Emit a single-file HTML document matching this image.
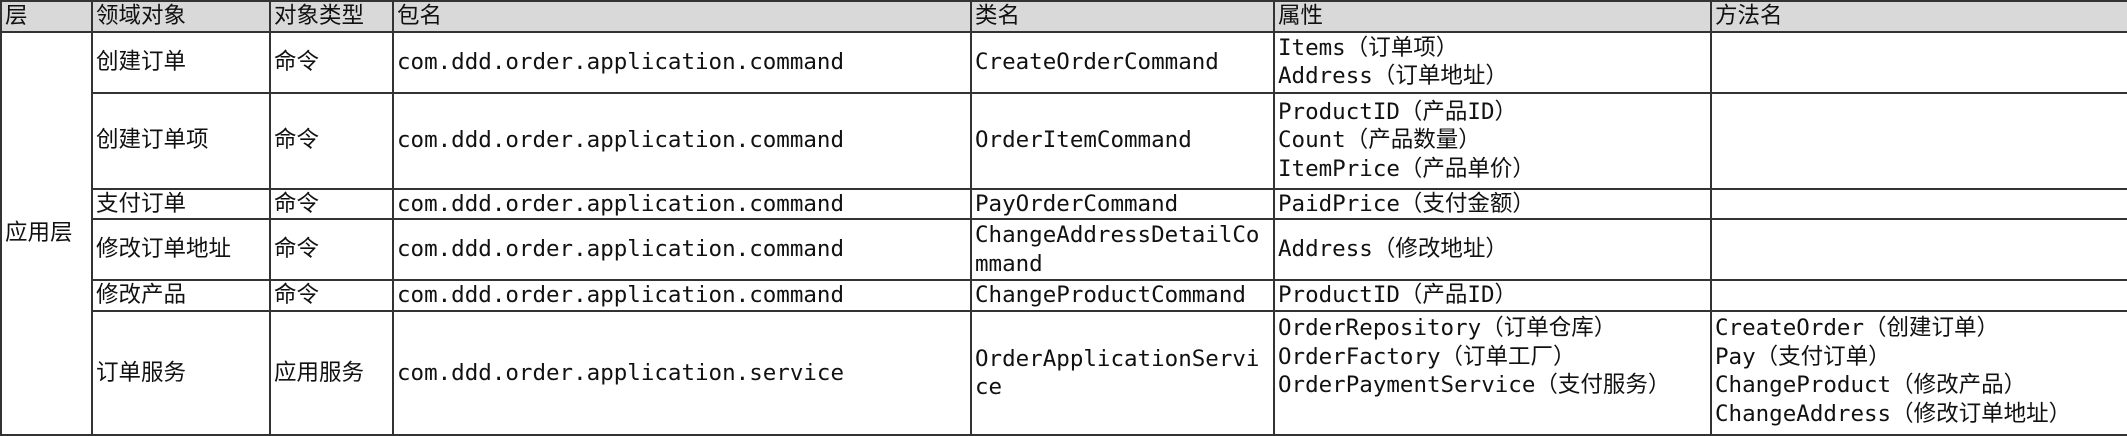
<!DOCTYPE html>
<html><head><meta charset="utf-8"><style>
html,body{margin:0;padding:0;background:#fff;}
body{width:2127px;height:433px;overflow:hidden;position:relative;}
table{position:absolute;left:0;top:0;border-collapse:collapse;table-layout:fixed;width:2127px;
font-family:"DejaVu Sans Mono","Liberation Mono","Noto Sans CJK SC",monospace;font-size:22.5px;color:#111;}
td{border:2px solid #333;padding:0 0 0 3px;vertical-align:middle;line-height:28.5px;white-space:nowrap;overflow:hidden;}
tr.h td{background:#d9d9d9;}
</style></head><body>
<table>
<colgroup><col style="width:91px"><col style="width:178px"><col style="width:123px"><col style="width:578px"><col style="width:303px"><col style="width:437px"><col style="width:417px"></colgroup>
<tr class="h" style="height:30px"><td>层</td><td>领域对象</td><td>对象类型</td><td>包名</td><td>类名</td><td>属性</td><td>方法名</td></tr>
<tr style="height:61px"><td rowspan="6">应用层</td><td>创建订单</td><td>命令</td><td>com.ddd.order.application.command</td><td>CreateOrderCommand</td><td>Items（订单项）<br>Address（订单地址）</td><td></td></tr>
<tr style="height:96px"><td>创建订单项</td><td>命令</td><td>com.ddd.order.application.command</td><td>OrderItemCommand</td><td>ProductID（产品ID）<br>Count（产品数量）<br>ItemPrice（产品单价）</td><td></td></tr>
<tr style="height:30px"><td>支付订单</td><td>命令</td><td>com.ddd.order.application.command</td><td>PayOrderCommand</td><td>PaidPrice（支付金额）</td><td></td></tr>
<tr style="height:61px"><td>修改订单地址</td><td>命令</td><td>com.ddd.order.application.command</td><td>ChangeAddressDetailCo<br>mmand</td><td>Address（修改地址）</td><td></td></tr>
<tr style="height:31px"><td>修改产品</td><td>命令</td><td>com.ddd.order.application.command</td><td>ChangeProductCommand</td><td>ProductID（产品ID）</td><td></td></tr>
<tr style="height:124px"><td>订单服务</td><td>应用服务</td><td>com.ddd.order.application.service</td><td>OrderApplicationServi<br>ce</td><td style="vertical-align:top;padding-top:2px">OrderRepository（订单仓库）<br>OrderFactory（订单工厂）<br>OrderPaymentService（支付服务）</td><td style="vertical-align:top;padding-top:2px">CreateOrder（创建订单）<br>Pay（支付订单）<br>ChangeProduct（修改产品）<br>ChangeAddress（修改订单地址）</td></tr>
</table>
</body></html>
